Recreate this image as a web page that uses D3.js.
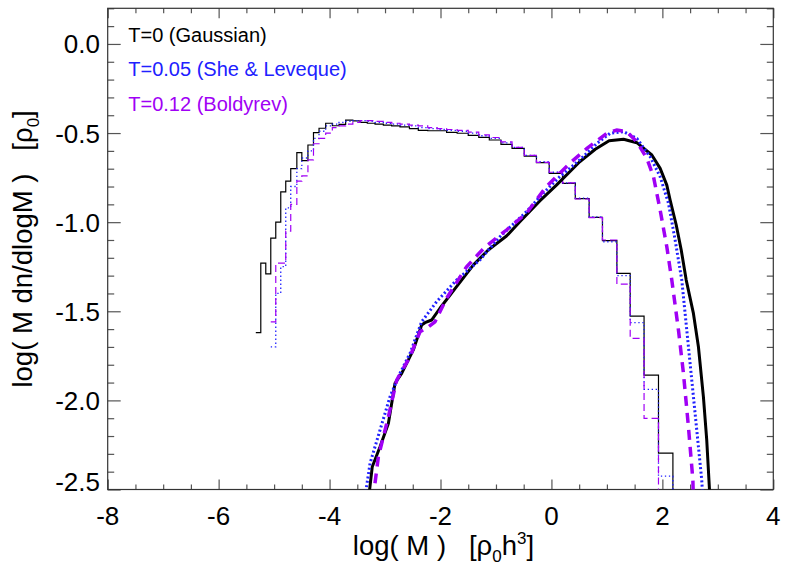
<!DOCTYPE html>
<html><head><meta charset="utf-8">
<script src="https://cdn.jsdelivr.net/npm/d3@7"></script>
<style>body{margin:0;background:#fff} svg{display:block}</style>
</head><body><svg id="c" width="789" height="565"></svg>
<script>
// ---------- data ----------
const xMajorTicks = [-8, -6, -4, -2, 0, 2, 4];
const xTickLabels = ["-8", "-6", "-4", "-2", "0", "2", "4"];
const yMajorTicks = [0.0, -0.5, -1.0, -1.5, -2.0, -2.5];
const yTickLabels = ["0.0", "-0.5", "-1.0", "-1.5", "-2.0", "-2.5"];
const legendLabels = ["T=0 (Gaussian)", "T=0.05 (She & Leveque)", "T=0.12 (Boldyrev)"];

// histogram bin edges, log(M)
const binEdges = [-5.33,-5.24,-5.15,-5.06,-4.97,-4.88,-4.79,-4.70,-4.59,-4.50,-4.39,-4.29,-4.19,-4.07,-3.95,-3.83,-3.71,-3.58,-3.45,-3.32,-3.18,-3.03,-2.88,-2.73,-2.56,-2.40,-2.23,-2.06,-1.89,-1.70,-1.50,-1.31,-1.12,-0.91,-0.71,-0.49,-0.27,-0.04,0.20,0.43,0.68,0.92,1.18,1.42,1.67,1.93,2.19,2.44];
const histT0 = [-1.62,-1.23,-1.29,-1.09,-1.00,-0.83,-0.77,-0.70,-0.61,-0.655,-0.567,-0.498,-0.473,-0.445,-0.459,-0.451,-0.427,-0.432,-0.44,-0.445,-0.45,-0.455,-0.46,-0.465,-0.475,-0.485,-0.487,-0.487,-0.496,-0.501,-0.513,-0.524,-0.539,-0.563,-0.586,-0.629,-0.666,-0.726,-0.782,-0.868,-0.973,-1.104,-1.287,-1.527,-1.858,-2.296,-3.0];
const histT005 = [null,null,null,-1.70,-1.40,-1.25,-0.92,-0.80,-0.70,-0.64,-0.60,-0.53,-0.49,-0.46,-0.45,-0.44,-0.435,-0.43,-0.43,-0.435,-0.44,-0.445,-0.45,-0.455,-0.46,-0.47,-0.475,-0.48,-0.485,-0.49,-0.50,-0.515,-0.53,-0.555,-0.58,-0.625,-0.66,-0.72,-0.78,-0.865,-0.97,-1.11,-1.30,-1.564,-1.938,-2.425,-3.0];
const histT012 = [null,null,null,-1.56,-1.23,-1.23,-1.05,-0.90,-0.77,-0.74,-0.65,-0.56,-0.53,-0.50,-0.47,-0.46,-0.45,-0.44,-0.43,-0.43,-0.435,-0.44,-0.445,-0.45,-0.455,-0.46,-0.47,-0.475,-0.48,-0.485,-0.495,-0.51,-0.525,-0.55,-0.58,-0.625,-0.665,-0.72,-0.78,-0.87,-0.975,-1.10,-1.348,-1.652,-2.101,-3.0,-3.0];

// thick curves: [log M, value]
const curveT0 = [[-3.30,-2.56],[-3.23,-2.372],[-3.09,-2.26],[-2.94,-2.129],[-2.82,-1.904],[-2.70,-1.848],[-2.49,-1.717],[-2.34,-1.577],[-2.28,-1.564],[-2.16,-1.549],[-2.01,-1.483],[-1.71,-1.362],[-1.41,-1.241],[-1.14,-1.156],[-0.81,-1.078],[-0.57,-0.998],[-0.21,-0.881],[0.09,-0.792],[0.51,-0.661],[0.79,-0.591],[1.04,-0.543],[1.30,-0.535],[1.54,-0.554],[1.81,-0.623],[1.96,-0.698],[2.08,-0.792],[2.14,-0.876],[2.25,-1.016],[2.34,-1.156],[2.43,-1.325],[2.56,-1.512],[2.65,-1.699],[2.74,-1.98],[2.80,-2.223],[2.86,-2.56]];
const curveT005 = [[-3.37,-2.56],[-3.27,-2.353],[-3.09,-2.166],[-2.91,-1.979],[-2.73,-1.848],[-2.55,-1.736],[-2.34,-1.559],[-2.07,-1.446],[-1.71,-1.325],[-1.29,-1.212],[-0.93,-1.082],[-0.45,-0.941],[-0.15,-0.838],[0.15,-0.745],[0.51,-0.651],[0.82,-0.558],[1.06,-0.501],[1.30,-0.492],[1.54,-0.530],[1.78,-0.633],[1.96,-0.745],[2.11,-0.894],[2.23,-1.10],[2.35,-1.325],[2.44,-1.605],[2.53,-1.886],[2.62,-2.166],[2.71,-2.447],[2.73,-2.56]];
const curveT012 = [[-3.22,-2.56],[-3.12,-2.316],[-2.94,-2.092],[-2.79,-1.886],[-2.55,-1.755],[-2.37,-1.615],[-2.24,-1.592],[-2.10,-1.559],[-1.89,-1.427],[-1.53,-1.25],[-1.20,-1.14],[-0.81,-1.044],[-0.45,-0.95],[-0.09,-0.80],[0.33,-0.670],[0.64,-0.586],[1.00,-0.501],[1.18,-0.483],[1.36,-0.492],[1.54,-0.549],[1.72,-0.642],[1.84,-0.745],[1.96,-0.932],[2.08,-1.138],[2.17,-1.325],[2.29,-1.605],[2.38,-1.848],[2.47,-2.148],[2.55,-2.447],[2.56,-2.56]];

// ---------- drawing ----------
const L = 107.7, R = 773.3, T = 8.3, B = 489.5;
const FONT = "'Liberation Sans', Arial, Helvetica, sans-serif";
const colBlack = "#000", colBlue = "#2020ff", colPurple = "#a000f5";
const NB = "\u00A0";

const x = d3.scaleLinear().domain([-8, 4]).range([L, R]);
const y = d3.scaleLinear().domain([0.2, -2.5]).range([T, B]);
const svg = d3.select("#c");

svg.append("defs").append("clipPath").attr("id", "clip")
  .append("rect").attr("x", L).attr("y", T).attr("width", R - L).attr("height", B - T);

const xMinor = d3.range(-8, 4.001, 0.5).filter(v => !xMajorTicks.some(m => Math.abs(m - v) < 1e-6));
const yMinor = d3.range(0.2, -2.5001, -0.1).map(v => +v.toFixed(2)).filter(v => !yMajorTicks.some(m => Math.abs(m - v) < 1e-6));

function styleAxis(g) {
  g.select(".domain").remove();
  g.selectAll(".tick line").attr("stroke", "#555").attr("stroke-width", 1.2);
  g.selectAll(".tick text").remove();
}
svg.append("g").attr("transform", `translate(0,${B})`).call(d3.axisBottom(x).tickValues(xMajorTicks).tickSize(-10)).call(styleAxis);
svg.append("g").attr("transform", `translate(0,${B})`).call(d3.axisBottom(x).tickValues(xMinor).tickSize(-5)).call(styleAxis);
svg.append("g").attr("transform", `translate(0,${T})`).call(d3.axisTop(x).tickValues(xMajorTicks).tickSize(-10)).call(styleAxis);
svg.append("g").attr("transform", `translate(0,${T})`).call(d3.axisTop(x).tickValues(xMinor).tickSize(-5)).call(styleAxis);
svg.append("g").attr("transform", `translate(${L},0)`).call(d3.axisLeft(y).tickValues(yMajorTicks).tickSize(-13)).call(styleAxis);
svg.append("g").attr("transform", `translate(${L},0)`).call(d3.axisLeft(y).tickValues(yMinor).tickSize(-6.5)).call(styleAxis);
svg.append("g").attr("transform", `translate(${R},0)`).call(d3.axisRight(y).tickValues(yMajorTicks).tickSize(-13)).call(styleAxis);
svg.append("g").attr("transform", `translate(${R},0)`).call(d3.axisRight(y).tickValues(yMinor).tickSize(-6.5)).call(styleAxis);

svg.append("rect").attr("x", L).attr("y", T).attr("width", R - L).attr("height", B - T)
  .attr("fill", "none").attr("stroke", "#333").attr("stroke-width", 1.2);

// tick labels
svg.append("g").selectAll("text").data(xMajorTicks).join("text")
  .attr("x", d => x(d)).attr("y", 524.5).attr("text-anchor", "middle")
  .attr("font-family", FONT).attr("font-size", 26).attr("fill", "#000")
  .text((d, i) => xTickLabels[i]);
svg.append("g").selectAll("text").data(yMajorTicks).join("text")
  .attr("x", 100).attr("y", d => Math.min(y(d) + 9.5, B + 1.5)).attr("text-anchor", "end")
  .attr("font-family", FONT).attr("font-size", 26).attr("fill", "#000")
  .text((d, i) => yTickLabels[i]);

// axis titles
const xt = svg.append("text").attr("x", (L + R) / 2 + 3).attr("y", 555).attr("text-anchor", "middle")
  .attr("font-family", FONT).attr("font-size", 27.5).attr("fill", "#000");
xt.append("tspan").text("log( M )" + NB + NB + NB + "[\u03C1");
xt.append("tspan").attr("font-size", 17).attr("dy", 7).text("0");
xt.append("tspan").attr("dy", -7).text("h");
xt.append("tspan").attr("font-size", 17).attr("dy", -11).text("3");
xt.append("tspan").attr("dy", 11).text("]");

const yt = svg.append("text").attr("transform", `translate(32,${(T + B) / 2}) rotate(-90)`)
  .attr("text-anchor", "middle").attr("font-family", FONT).attr("font-size", 27.5).attr("fill", "#000");
yt.append("tspan").text("log( M dn/dlogM )" + NB + NB + NB + "[\u03C1");
yt.append("tspan").attr("font-size", 17).attr("dy", 7).text("0");
yt.append("tspan").attr("dy", -7).text("]");

// plot content
const plot = svg.append("g").attr("clip-path", "url(#clip)");
const line = d3.line().x(d => x(d[0])).y(d => y(d[1]));

function stepPoints(vals) {
  const pts = [];
  vals.forEach((v, i) => { if (v !== null) { pts.push([binEdges[i], v], [binEdges[i + 1], v]); } });
  return pts;
}

plot.append("path").attr("d", line(stepPoints(histT0))).attr("fill", "none")
  .attr("stroke", colBlack).attr("stroke-width", 1.2);
plot.append("path").attr("d", line(stepPoints(histT005))).attr("fill", "none")
  .attr("stroke", colBlue).attr("stroke-width", 1.3).attr("stroke-dasharray", "1.3,2.7");
plot.append("path").attr("d", line(stepPoints(histT012))).attr("fill", "none")
  .attr("stroke", colPurple).attr("stroke-width", 1.2).attr("stroke-dasharray", "7,4");

plot.append("path").attr("d", line(curveT0)).attr("fill", "none")
  .attr("stroke", colBlack).attr("stroke-width", 3).attr("stroke-linejoin", "round");
plot.append("path").attr("d", line(curveT005)).attr("fill", "none")
  .attr("stroke", colBlue).attr("stroke-width", 3).attr("stroke-dasharray", "2,2.4");
plot.append("path").attr("d", line(curveT012)).attr("fill", "none")
  .attr("stroke", colPurple).attr("stroke-width", 3.5).attr("stroke-dasharray", "10,7");

// legend
const legendColors = [colBlack, colBlue, colPurple];
svg.append("g").selectAll("text").data(legendLabels).join("text")
  .attr("x", 128.3).attr("y", (d, i) => 41.7 + i * 34.7)
  .attr("font-family", FONT).attr("font-size", 20)
  .attr("fill", (d, i) => legendColors[i]).text(d => d);
</script></body></html>
